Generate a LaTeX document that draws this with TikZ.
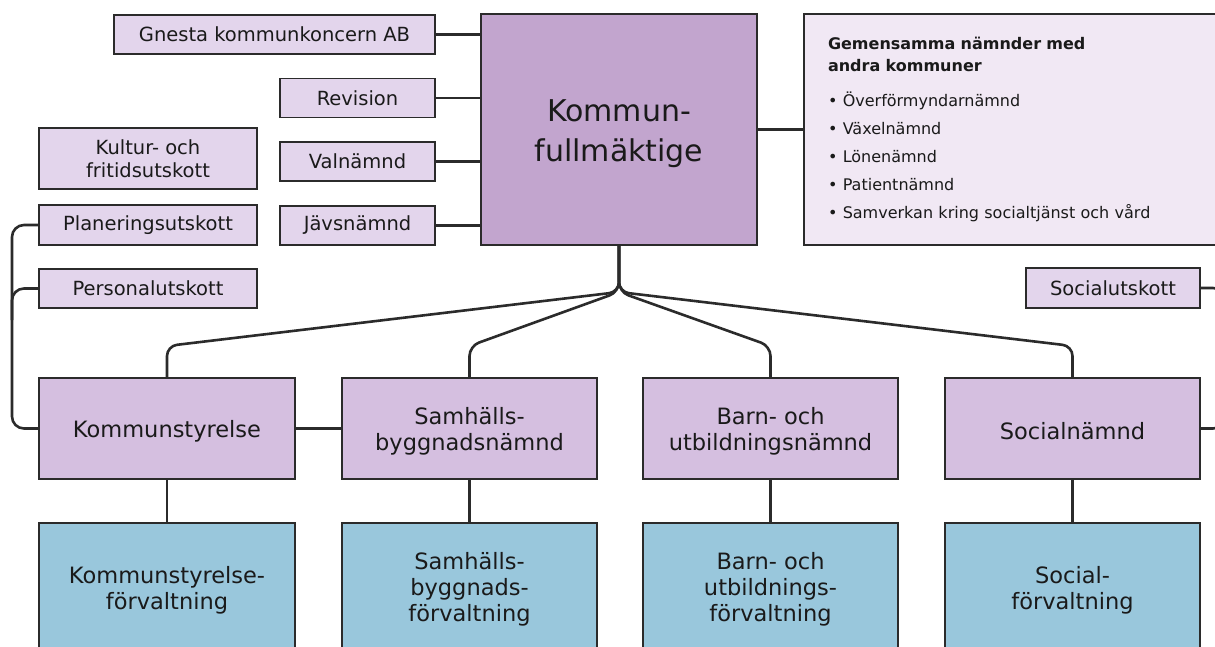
\documentclass[tikz,border=0pt]{standalone}
\usepackage{fontspec}
\setmainfont{DejaVu Sans}
\usetikzlibrary{calc}
\definecolor{bordc}{HTML}{2B2B2B}
\definecolor{txtc}{HTML}{1A1A1A}
\definecolor{kfc}{HTML}{C2A5CE}
\definecolor{rowc}{HTML}{D5BFE0}
\definecolor{smallc}{HTML}{E3D5EC}
\definecolor{gemc}{HTML}{F1E8F4}
\definecolor{bluec}{HTML}{99C7DC}
\newcommand{\upstrut}[1]{\rule{0pt}{#1}}
\tikzset{
  box/.style={draw=bordc, line width=1.6pt, inner sep=0pt, align=center, text=txtc},
  smallbox/.style={box, fill=smallc, minimum height=39pt, font=\fontsize{19.5}{22.5}\selectfont},
  rowbox/.style={box, fill=rowc, minimum width=255pt, minimum height=101pt, font=\fontsize{22.5}{26}\selectfont},
  admbox/.style={box, fill=bluec, minimum width=255pt, minimum height=130pt, font=\fontsize{22.5}{26}\selectfont},
  conn/.style={draw=bordc, line width=2.6pt},
}
\begin{document}
\begin{tikzpicture}[x=1pt,y=-1pt]
\useasboundingbox (0,0) rectangle (1215,646);
\clip (0,0) rectangle (1215,646);
\fill[white] (0,0) rectangle (1215,646);

% top-left boxes
\node[smallbox, minimum width=321pt] (gnesta) at (274.5,34.5) {Gnesta kommunkoncern AB};
\node[smallbox, minimum width=155pt] (rev) at (357.5,98) {Revision};
\node[smallbox, minimum width=155pt] (val) at (357.5,161.5) {Valnämnd};
\node[smallbox, minimum width=155pt] (jav) at (357.5,225.5) {Jävsnämnd};
\node[smallbox, minimum width=218pt, minimum height=61pt] (kultur) at (148,158.5) {Kultur- och\\fritidsutskott};
\node[smallbox, minimum width=218pt, minimum height=40pt] (plan) at (148,225) {Planeringsutskott};
\node[smallbox, minimum width=218pt] (pers) at (148,288.5) {Personalutskott};
\node[smallbox, minimum width=174pt, minimum height=40pt] (socu) at (1113,288) {Socialutskott};

% central
\node[box, fill=kfc, minimum width=276pt, minimum height=231pt, font=\fontsize{30}{40}\selectfont] (kf) at (619,129.5) {\upstrut{31pt}Kommun-\\fullmäktige};

\node[box, fill=gemc, minimum width=436pt, minimum height=231pt, text width=388pt, align=left, font=\fontsize{16}{28}\selectfont] (gem) at (1022,129.5)
{{\bfseries Gemensamma nämnder med}\\[-6pt]{\bfseries andra kommuner}\\[7pt]
• Överförmyndarnämnd\\
• Växelnämnd\\
• Lönenämnd\\
• Patientnämnd\\
• Samverkan kring socialtjänst och vård};

% row 2
\node[rowbox, minimum width=256pt] (ks) at (167,428.5) {\upstrut{23pt}Kommunstyrelse};
\node[rowbox] (sbn) at (469.5,428.5) {\upstrut{22pt}Samhälls-\\byggnadsnämnd};
\node[rowbox] (bun) at (770.5,428.5) {\upstrut{22pt}Barn- och\\utbildningsnämnd};
\node[rowbox] (sn) at (1072.5,428.5) {\upstrut{23pt}Socialnämnd};

% row 3
\node[admbox, minimum width=256pt] (ksf) at (167,588) {\upstrut{21pt}Kommunstyrelse-\\förvaltning};
\node[admbox] (sbf) at (469.5,588) {\upstrut{20pt}Samhälls-\\byggnads-\\förvaltning};
\node[admbox] (buf) at (770.5,588) {\upstrut{20pt}Barn- och\\utbildnings-\\förvaltning};
\node[admbox] (sf) at (1072.5,588) {\upstrut{21pt}Social-\\förvaltning};

% connectors to KF
\draw[conn] (gnesta.east) -- (gnesta.east -| kf.west);
\draw[conn] (rev.east) -- (rev.east -| kf.west);
\draw[conn] (val.east) -- (val.east -| kf.west);
\draw[conn] (jav.east) -- (jav.east -| kf.west);
\draw[conn] (kf.east) -- (kf.east -| gem.west);

% fan
\coordinate (j) at (619,292);
\coordinate (cks) at (167,346);
\coordinate (csbn) at (469.5,346);
\coordinate (cbun) at (770.5,346);
\coordinate (csn) at (1072.5,346);
\draw[conn, rounded corners=10pt] (kf.south) -- (j) -- (cks) -- (ks.north);
\draw[conn, rounded corners=10pt] (kf.south) -- (j) -- (csbn) -- (sbn.north);
\draw[conn, rounded corners=10pt] (kf.south) -- (j) -- (cbun) -- (bun.north);
\draw[conn, rounded corners=10pt] (kf.south) -- (j) -- (csn) -- (sn.north);

% row2 to row3
\draw[conn] (ks.south) -- (ksf.north);
\draw[conn] (sbn.south) -- (sbf.north);
\draw[conn] (bun.south) -- (buf.north);
\draw[conn] (sn.south) -- (sf.north);
\draw[conn] (ks.east) -- (sbn.west);

% left bracket
\coordinate (lt) at (12,225);
\coordinate (lb) at (12,428.5);
\coordinate (lp) at (12,288.5);
\coordinate (lp2) at (12,320);
\draw[conn, rounded corners=12pt] (plan.west) -- (lt) -- (lb) -- (ks.west);
\draw[conn, rounded corners=12pt] (pers.west) -- (lp) -- (lp2);

% right bracket
\coordinate (rt) at (1225,288);
\coordinate (rb) at (1225,428.5);
\draw[conn, rounded corners=12pt] (socu.east) -- (rt) -- (rb) -- (sn.east);
\end{tikzpicture}
\end{document}
